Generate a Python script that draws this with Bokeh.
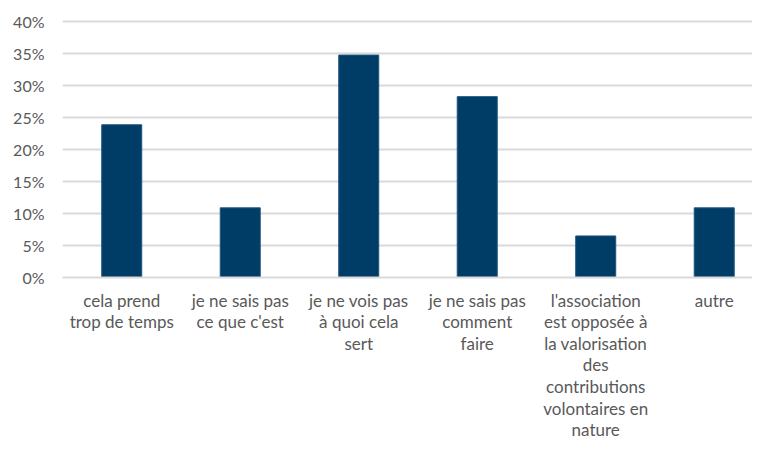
from bokeh.plotting import figure
from bokeh.models import Range1d, FixedTicker, NumeralTickFormatter
from bokeh.embed import file_html
from bokeh.resources import INLINE

categories = [
    "cela prend\ntrop de temps",
    "je ne sais pas\nce que c'est",
    "je ne vois pas\nà quoi cela\nsert",
    "je ne sais pas\ncomment\nfaire",
    "l'association\nest opposée à\nla valorisation\ndes\ncontributions\nvolontaires en\nnature",
    "autre",
]
values = [0.239, 0.109, 0.348, 0.283, 0.065, 0.109]
y_ticks = [0, 0.05, 0.10, 0.15, 0.20, 0.25, 0.30, 0.35, 0.40]

xs = list(range(len(categories)))

p = figure(width=752, height=443, output_backend="svg", toolbar_location=None,
           x_range=Range1d(-0.5, 5.323), y_range=Range1d(0, 0.41),
           min_border_left=62, min_border_right=0, min_border_top=15, min_border_bottom=100)

p.vbar(x=xs, top=values, width=0.3376, fill_color="#003d66", line_color="#1a5580", line_width=1)

p.outline_line_color = None
p.background_fill_color = "white"
p.border_fill_color = "white"

p.xgrid.visible = False
p.ygrid.grid_line_color = "#d9d9d9"
p.ygrid.grid_line_width = 2
p.ygrid.ticker = FixedTicker(ticks=y_ticks)

p.yaxis.ticker = FixedTicker(ticks=y_ticks)
p.yaxis.formatter = NumeralTickFormatter(format="0%")
p.yaxis.axis_line_color = None
p.yaxis.major_tick_line_color = None
p.yaxis.minor_tick_line_color = None
p.yaxis.major_tick_out = 0
p.yaxis.major_tick_in = 0
p.yaxis.major_label_standoff = 18
p.yaxis.major_label_text_font = "Lato"
p.yaxis.major_label_text_font_size = "16px"
p.yaxis.major_label_text_color = "#595959"

p.xaxis.ticker = FixedTicker(ticks=xs)
p.xaxis.major_label_overrides = {i: c for i, c in zip(xs, categories)}
p.xaxis.axis_line_color = "#d9d9d9"
p.xaxis.axis_line_width = 2
p.xaxis.major_tick_line_color = None
p.xaxis.minor_tick_line_color = None
p.xaxis.major_tick_out = 0
p.xaxis.major_tick_in = 0
p.xaxis.axis_label_standoff = 0
p.xaxis.major_label_standoff = 12
p.xaxis.major_label_text_font = "Lato"
p.xaxis.major_label_text_font_size = "17px"
p.xaxis.major_label_text_color = "#595959"
p.xaxis.major_label_text_line_height = 1.03

open("out.html", "w").write(file_html(p, INLINE))
